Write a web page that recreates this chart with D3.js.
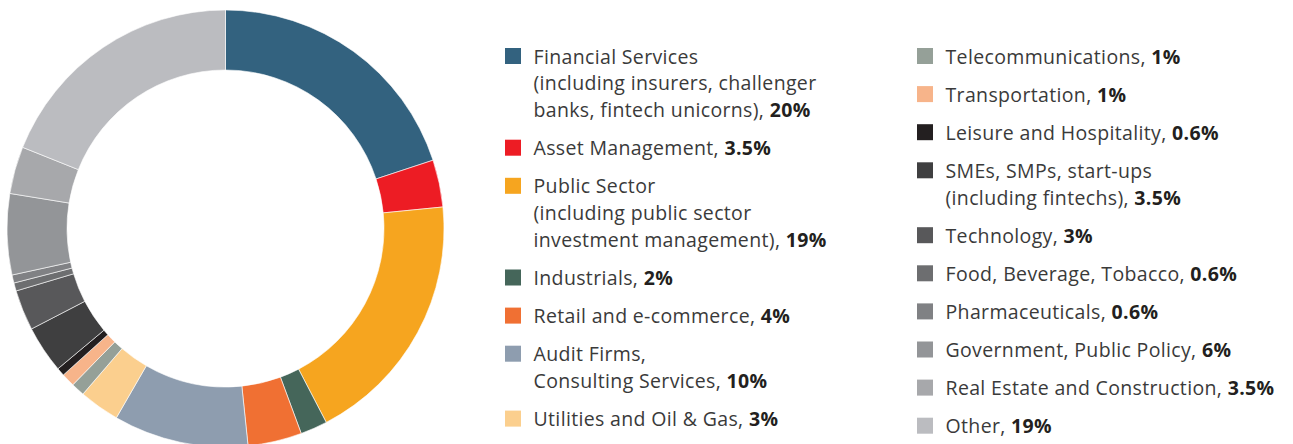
<!DOCTYPE html>
<html>
<head>
<meta charset="utf-8">
<script src="https://cdn.jsdelivr.net/npm/d3@7"></script>
<style>
  body { margin: 0; background: #fff; }
  svg { display: block; }
  .legend text { font-family: "Open Sans", Lato, sans-serif; font-size: 19.5px; letter-spacing: 0.35px; fill: #3a3a3a; }
  .legend tspan.val { font-weight: bold; fill: #231f20; }
</style>
</head>
<body>
<div id="chart"></div>
<script>
var width = 1293;
var height = 444;

// sectors, clockwise from 12 o'clock
var categories = ["Financial Services", "Asset Management", "Public Sector", "Industrials",
  "Retail and e-commerce", "Audit Firms", "Utilities and Oil & Gas", "Telecommunications",
  "Transportation", "Leisure and Hospitality", "SMEs", "Technology", "Food, Beverage, Tobacco",
  "Pharmaceuticals", "Government, Public Policy", "Real Estate and Construction", "Other"];
var values = [20, 3.5, 19, 2, 4, 10, 3, 1, 1, 0.6, 3.5, 3, 0.6, 0.6, 6, 3.5, 19];
var valueLabels = ["20%", "3.5%", "19%", "2%", "4%", "10%", "3%", "1%", "1%", "0.6%",
  "3.5%", "3%", "0.6%", "0.6%", "6%", "3.5%", "19%"];
// legend text, one entry per line; value gets appended to the last line
var labelLines = [
  ["Financial Services", "(including insurers, challenger", "banks, fintech unicorns), "],
  ["Asset Management, "],
  ["Public Sector", "(including public sector", "investment management), "],
  ["Industrials, "],
  ["Retail and e-commerce, "],
  ["Audit Firms,", "Consulting Services, "],
  ["Utilities and Oil & Gas, "],
  ["Telecommunications, "],
  ["Transportation, "],
  ["Leisure and Hospitality, "],
  ["SMEs, SMPs, start-ups", "(including fintechs), "],
  ["Technology, "],
  ["Food, Beverage, Tobacco, "],
  ["Pharmaceuticals, "],
  ["Government, Public Policy, "],
  ["Real Estate and Construction, "],
  ["Other, "]
];
var palette = ["#33627f", "#ed1c24", "#f6a51f", "#45665a", "#f07033", "#8e9daf", "#fbcf8e",
  "#95a098", "#f7b48a", "#231f20", "#3f3f40", "#58585a", "#6d6e70", "#808184", "#939598",
  "#a7a8ab", "#bbbcc0"];

var color = d3.scaleOrdinal().domain(categories).range(palette);

var svg = d3.select("#chart")
    .append("svg")
    .attr("width", width)
    .attr("height", height);

// donut
var cx = 225.5, cy = 228.5;
var pie = d3.pie().sort(null).value(function(d) { return d.value; });
var arc = d3.arc().innerRadius(158.5).outerRadius(218.5);

var rows = categories.map(function(c, i) { return {name: c, value: values[i]}; });

svg.append("g")
    .attr("transform", "translate(" + cx + "," + cy + ")")
  .selectAll("path")
  .data(pie(rows))
  .enter().append("path")
    .attr("d", arc)
    .attr("fill", function(d) { return color(d.data.name); })
    .attr("stroke", "#fff")
    .attr("stroke-width", 0.6);

// legend, two columns
var columns = [{x: 505, y0: 56, items: d3.range(0, 7)}, {x: 917, y0: 56, items: d3.range(7, 17)}];
var step = 38.1, lineH = 26.8, box = 16;

var legend = svg.append("g").attr("class", "legend");

columns.forEach(function(col) {
  var y = col.y0;
  col.items.forEach(function(i) {
    var g = legend.append("g").attr("transform", "translate(" + col.x + "," + y + ")");
    g.append("rect")
      .attr("x", 0).attr("y", -box / 2)
      .attr("width", box).attr("height", box)
      .attr("fill", color(categories[i]));
    var lines = labelLines[i];
    lines.forEach(function(l, j) {
      var t = g.append("text")
        .attr("x", 28.5)
        .attr("y", 7.5 + j * lineH);
      t.append("tspan").text(l);
      if (j === lines.length - 1) t.append("tspan").attr("class", "val").text(valueLabels[i]);
    });
    y += step + (lines.length - 1) * lineH;
  });
});
</script>
</body>
</html>
